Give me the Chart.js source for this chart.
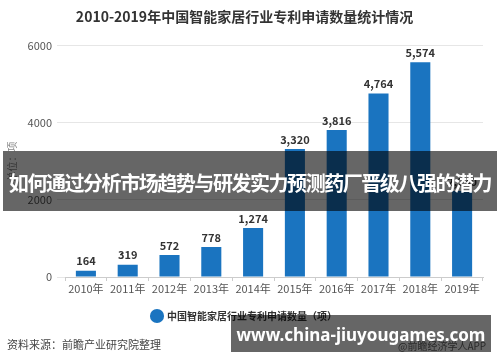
<!DOCTYPE html>
<html><head><meta charset="utf-8">
<script src="https://cdn.jsdelivr.net/npm/chart.js@4"></script>
<style>
html,body{margin:0;padding:0;background:#fff;width:500px;height:362px;overflow:hidden;font-family:"Noto Sans CJK SC","Noto Sans",sans-serif;}
#wrap{position:absolute;left:0;top:0;width:500px;height:362px;}
#src{position:absolute;left:7px;top:336px;font-size:11px;color:#444;}
#app{position:absolute;left:398px;top:338px;font-size:10px;color:#666;}
#banner{position:absolute;left:3px;top:151px;width:494px;height:60px;background:rgba(0,0,0,0.6);color:#fff;font-weight:bold;font-size:20px;letter-spacing:-1.45px;line-height:64px;text-align:center;white-space:nowrap;}
#url{position:absolute;left:231px;top:315px;width:260px;height:37px;background:rgba(0,0,0,0.6);color:#fff;font-family:"Noto Sans","Open Sans",sans-serif;font-weight:bold;font-size:17px;line-height:39px;text-align:center;white-space:nowrap;}
</style></head>
<body>
<div id="wrap"><canvas id="c" width="500" height="362"></canvas></div>
<div id="src">资料来源：前瞻产业研究院整理</div>
<div id="app">@前瞻经济学人APP</div>
<div id="banner">如何通过分析市场趋势与研发实力预测药厂晋级八强的潜力</div>
<div id="url">www.china-jiuyougames.com</div>
<script>
const categories = ["2010年","2011年","2012年","2013年","2014年","2015年","2016年","2017年","2018年","2019年"];
const patents = [164, 319, 572, 778, 1274, 3320, 3816, 4764, 5574, 2230];
const yTicks = [0, 2000, 4000, 6000];
const seriesName = "中国智能家居行业专利申请数量（项）";
const chartTitle = "2010-2019年中国智能家居行业专利申请数量统计情况";
const yTitle = "单位：项";

const FONT = '"Noto Sans CJK SC","Noto Sans",sans-serif';
const BLUE = '#1a74c0';

const labelPlugin = {
  id: 'barLabels',
  afterDatasetsDraw(chart) {
    const ctx = chart.ctx;
    const meta = chart.getDatasetMeta(0);
    ctx.save();
    ctx.font = 'bold 11px ' + FONT;
    ctx.fillStyle = '#333';
    ctx.textAlign = 'center';
    ctx.textBaseline = 'bottom';
    meta.data.forEach((el, i) => {
      ctx.fillText(patents[i].toLocaleString('en-US'), el.x, el.y - 4);
    });
    ctx.restore();
  }
};

new Chart(document.getElementById('c'), {
  type: 'bar',
  data: {
    labels: categories,
    datasets: [{
      label: seriesName,
      data: patents,
      backgroundColor: BLUE,
      borderWidth: 0,
      barPercentage: 0.96,
      categoryPercentage: 0.5
    }]
  },
  options: {
    responsive: false,
    animation: false,
    devicePixelRatio: 1,
    layout: { padding: { left: 6, right: 17, top: 0, bottom: 31 } },
    plugins: {
      title: {
        display: true, text: chartTitle, color: '#333',
        font: { family: FONT, size: 14, weight: 'bold' },
        padding: { top: 8, bottom: 21 }
      },
      legend: {
        position: 'bottom',
        labels: {
          usePointStyle: true, pointStyle: 'circle', boxWidth: 10, boxHeight: 10,
          color: '#333', font: { family: FONT, size: 10, weight: 'bold' }, padding: 8
        }
      },
      tooltip: { enabled: false }
    },
    scales: {
      x: {
        grid: { display: true, drawOnChartArea: false, drawTicks: true, tickLength: 4, color: '#ccc', offset: true },
        border: { display: true, color: '#ccc' },
        ticks: { color: '#555', font: { family: FONT, size: 11 }, padding: 1, maxRotation: 0 },
        afterFit(s) { s.height = 26; }
      },
      y: {
        min: 0, max: 6000,
        afterBuildTicks(s) { s.ticks = yTicks.map(v => ({ value: v })); },
        grid: { color: '#e6e6e6', tickLength: 8, drawTicks: true },
        border: { display: false },
        ticks: { color: '#555', font: { family: FONT, size: 11 }, padding: 5, callback: v => String(v) },
        title: { display: true, text: yTitle, color: '#888', font: { family: FONT, size: 10 }, padding: 0 },
        afterFit(s) { s.width = 59; }
      }
    }
  },
  plugins: [labelPlugin]
});
</script>
</body></html>
